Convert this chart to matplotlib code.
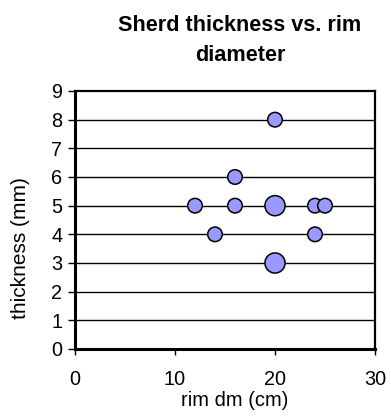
import matplotlib.pyplot as plt

plt.rcParams['font.family'] = ['Liberation Sans', 'DejaVu Sans']

# rim diameter (cm), thickness (mm), bubble weight (count)
rim_dm = [20, 16, 12, 16, 20, 24, 25, 14, 24, 20]
thickness = [8, 6, 5, 5, 5, 5, 5, 4, 4, 3]
count = [1, 1, 1, 1, 2, 1, 1, 1, 1, 2]

sizes = [110 if c == 1 else 210 for c in count]

W, H = 391, 416
fig = plt.figure(figsize=(W / 100, H / 100), dpi=100)
# plot area: x 75..375, y 91..349 px
ax = fig.add_axes([75 / W, 1 - 349 / H, 300 / W, 258 / H])

for y in range(1, 9):
    ax.axhline(y, color='black', lw=1.0, zorder=1)

ax.scatter(rim_dm, thickness, s=sizes, c='#9999FF', edgecolors='black',
           linewidths=1.1, zorder=3, clip_on=False)

ax.set_xlim(0, 30)
ax.set_ylim(0, 9)
ax.set_xticks([0, 10, 20, 30])
ax.set_yticks(range(10))
ax.tick_params(labelsize=14.3, width=1, direction='out')
ax.tick_params(axis='y', length=5, pad=4)
ax.tick_params(axis='x', length=4, pad=11)

ax.spines['left'].set_linewidth(2.2)
ax.spines['bottom'].set_linewidth(2.2)
ax.spines['right'].set_linewidth(1.6)
ax.spines['top'].set_linewidth(1.6)

ax.set_xlabel('rim dm (cm)', fontsize=14.5, va='center')
ax.xaxis.set_label_coords(0.533, -0.2)
ax.set_ylabel('thickness (mm)', fontsize=15, va='center')
ax.yaxis.set_label_coords(-0.183, 0.39)

fig.text(240 / W, 1 - 31 / H, 'Sherd thickness vs. rim', fontsize=15.6,
         fontweight='bold', ha='center', va='baseline')
fig.text(240 / W, 1 - 61 / H, 'diameter', fontsize=15.6,
         fontweight='bold', ha='center', va='baseline')

fig.savefig('out.png', dpi=100)
